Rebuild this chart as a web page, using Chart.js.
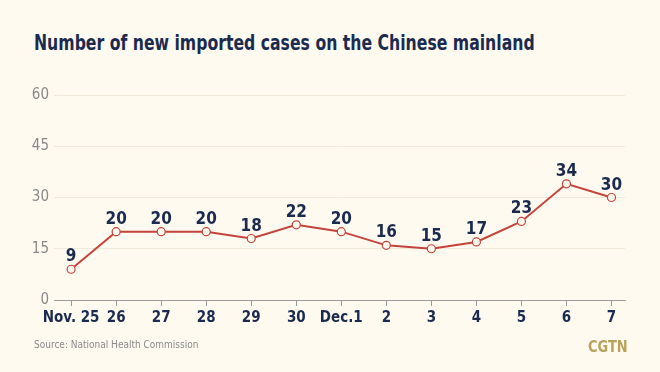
<!DOCTYPE html>
<html>
<head>
<meta charset="utf-8">
<script src="https://cdn.jsdelivr.net/npm/chart.js@4/dist/chart.umd.min.js"></script>
<style>
  html, body { margin: 0; padding: 0; background: #fefaef; }
  #wrap { position: relative; width: 660px; height: 372px; overflow: hidden; }
  #title { position: absolute; left: 34px; top: 31px; font: bold 21px "DejaVu Sans Condensed", Roboto, sans-serif; color: #1b2b4f; white-space: nowrap; transform: scaleX(0.83); transform-origin: left top; }
  #source { position: absolute; left: 34px; top: 339px; font: 10px "DejaVu Sans Condensed", Roboto, sans-serif; color: #8a8a8a; }
  #logo { position: absolute; left: 588px; top: 337px; font: bold 16px "DejaVu Sans Condensed", Roboto, sans-serif; color: #b8a35c; transform: scaleX(0.9); transform-origin: left top; }
  canvas { position: absolute; left: 0; top: 0; }
</style>
</head>
<body>
<div id="wrap">
  <div id="title">Number of new imported cases on the Chinese mainland</div>
  <canvas id="lineChart" width="660" height="372"></canvas>
  <div id="source">Source: National Health Commission</div>
  <div id="logo">CGTN</div>
</div>
<script>
// data
var dayLabels = ["Nov. 25", "26", "27", "28", "29", "30", "Dec.1", "2", "3", "4", "5", "6", "7"];
var newCases = [9, 20, 20, 20, 18, 22, 20, 16, 15, 17, 23, 34, 30];
var yTicks = [0, 15, 30, 45, 60];

var condensed = '"DejaVu Sans Condensed", Roboto, sans-serif';

// numbers over each point
const pointLabels = {
    id: 'pointLabels',
    afterDatasetsDraw(chart) {
        const ctx = chart.ctx;
        const meta = chart.getDatasetMeta(0);
        ctx.save();
        ctx.font = 'bold 17px ' + condensed;
        ctx.fillStyle = '#1b2b4f';
        ctx.textAlign = 'center';
        ctx.textBaseline = 'alphabetic';
        meta.data.forEach(function(pt, i){
            ctx.fillText(newCases[i], pt.x, pt.y - 8);
        });
        ctx.restore();
    }
};

const lineChart = document.getElementById('lineChart').getContext('2d');
new Chart(lineChart, {
    type: 'line',
    data: {
        datasets: [
            {
                label: "Cases",
                data: newCases.map(function(v, i){ return {x: i, y: v}; }),
                borderColor: '#c4433b',
                borderWidth: 2,
                backgroundColor: 'transparent',
                pointBackgroundColor: '#fefaef',
                pointBorderColor: '#c4433b',
                pointBorderWidth: 1.2,
                pointRadius: 4,
                tension: 0
            }
        ]
    },
    plugins: [pointLabels],
    options: {
        responsive: false,
        animation: false,
        layout: { padding: { top: 95, right: 35, left: 0, bottom: 0 } },
        plugins: {
            legend: false,
            tooltip: { enabled: false }
        },
        scales: {
            x: {
                type: 'linear',
                min: -0.38,
                max: 12.3,
                afterBuildTicks: function(s){ s.ticks = dayLabels.map(function(l, i){ return {value: i}; }); },
                afterFit: function(s){ s.height = 72; },
                border: { color: '#9a9a9a', width: 1 },
                grid: { drawOnChartArea: false, drawTicks: true, tickLength: 6, color: '#9a9a9a' },
                ticks: {
                    autoSkip: false,
                    maxRotation: 0,
                    padding: 3,
                    color: '#1b2b4f',
                    font: { family: condensed, size: 15, weight: 'bold' },
                    callback: function(v){ return dayLabels[v]; }
                }
            },
            y: {
                min: 0,
                max: 60,
                afterBuildTicks: function(s){ s.ticks = yTicks.map(function(v){ return {value: v}; }); },
                afterFit: function(s){ s.width = 54; },
                border: { display: false },
                grid: { color: '#efe9d9', drawTicks: false },
                ticks: {
                    padding: 5,
                    color: '#8a8a8a',
                    font: { family: condensed, size: 15 }
                }
            }
        }
    }
});
</script>
</body>
</html>
